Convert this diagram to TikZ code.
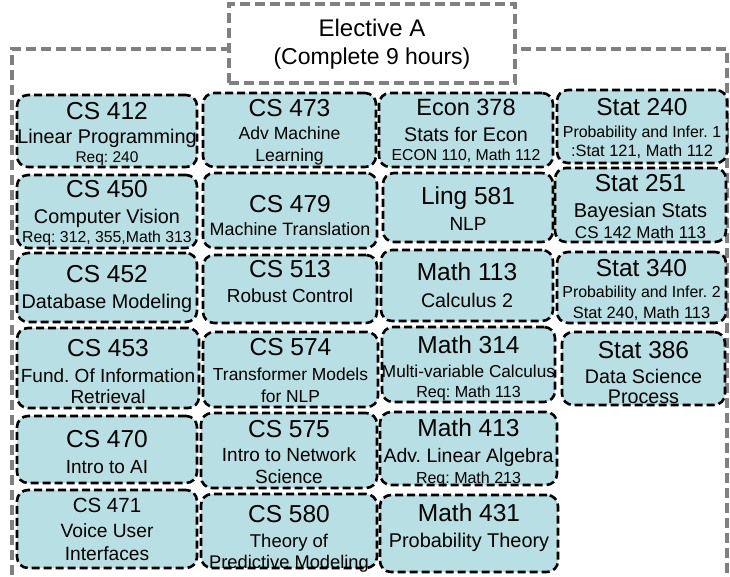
\documentclass[tikz,border=0pt]{standalone}
\usepackage{fontspec}
\setmainfont{Liberation Sans}
\usetikzlibrary{fit}

\definecolor{boxfill}{RGB}{184,223,227}
\definecolor{framegray}{RGB}{128,128,128}

% font size helper (size in pt, tight leading)
\newcommand\fs[1]{\fontsize{#1}{#1}\selectfont}

\tikzset{
  cbox/.style={draw=black, fill=boxfill, line width=2.6pt,
    dash pattern=on 8pt off 4pt, rounded corners=11pt, inner sep=0pt, outer sep=0pt},
  titlebox/.style={draw=framegray, fill=white, line width=4pt,
    dash pattern=on 10pt off 5pt, inner sep=0pt, outer sep=0pt},
  frameline/.style={draw=framegray, line width=4pt, dash pattern=on 10pt off 5pt},
  tline/.style={anchor=base, inner sep=0pt, outer sep=0pt, text=black},
  code/.style={tline, font=\fs{24.5}},
  desc/.style={tline, font=\fs{#1}},
  desc/.default=19.5,
  small/.style={tline, font=\fs{#1}},
  small/.default=16,
}

% course box: name, left, top, right, bottom
\newcommand\course[5]{\node[cbox, fit={(#2,#3) (#4,#5)}] (#1) {};}
% one text line: node name, box name, baseline y, style, text
\newcommand\crsline[5]{\node[#4] (#1) at (#2.center |- 0,#3) {#5};}

\begin{document}
\frenchspacing
\begin{tikzpicture}[x=1pt, y=-1pt]
  \useasboundingbox (0,0) rectangle (730,577);
  \clip (0,0) rectangle (730,577);

  % outer frame, open at the bottom
  \coordinate (fbl) at (12,590);
  \coordinate (ftl) at (12,49);
  \coordinate (ftr) at (727,49);
  \coordinate (fbr) at (727,590);
  \draw[frameline] (fbl) -- (ftl) -- (ftr) -- (fbr);

  % heading
  \node[titlebox, fit={(229,4) (515,83)}] (title) {};
  \crsline{title1}{title}{37}{tline, font=\fs{24}}{Elective A}
  \crsline{title2}{title}{65}{tline, font=\fs{23}}{(Complete 9 hours)}

  % ---- column 1
  \course{cs412}{17}{95}{197}{167}
  \crsline{cs412a}{cs412}{120}{code}{CS 412}
  \crsline{cs412b}{cs412}{144}{desc=19.8}{Linear Programming}
  \crsline{cs412c}{cs412}{163}{small=15.5}{Req: 240}

  \course{cs450}{17}{175}{197}{248}
  \crsline{cs450a}{cs450}{198}{code}{CS 450}
  \crsline{cs450b}{cs450}{224}{desc=19.8}{Computer Vision}
  \crsline{cs450c}{cs450}{243}{small=15.8}{Req: 312, 355,Math 313}

  \course{cs452}{17}{253}{197}{322}
  \crsline{cs452a}{cs452}{282}{code}{CS 452}
  \crsline{cs452b}{cs452}{308}{desc=19.8}{Database Modeling}

  \course{cs453}{17}{328}{199}{408}
  \crsline{cs453a}{cs453}{356}{code}{CS 453}
  \crsline{cs453b}{cs453}{382}{desc=19}{Fund. Of Information}
  \crsline{cs453c}{cs453}{403}{desc=19}{Retrieval}

  \course{cs470}{17}{416}{197}{483}
  \crsline{cs470a}{cs470}{447}{code}{CS 470}
  \crsline{cs470b}{cs470}{473}{desc=19}{Intro to AI}

  \course{cs471}{17}{490}{197}{568}
  \crsline{cs471a}{cs471}{512}{tline, font=\fs{20.5}}{CS 471}
  \crsline{cs471b}{cs471}{537}{desc=19.2}{Voice User}
  \crsline{cs471c}{cs471}{560}{desc=19.2}{Interfaces}

  % ---- column 2
  \course{cs473}{203}{93}{376}{167}
  \crsline{cs473a}{cs473}{117}{code}{CS 473}
  \crsline{cs473b}{cs473}{140}{desc=17.6}{Adv Machine}
  \crsline{cs473c}{cs473}{162}{desc=17.6}{Learning}

  \course{cs479}{203}{173}{377}{248}
  \crsline{cs479a}{cs479}{213}{code}{CS 479}
  \crsline{cs479b}{cs479}{236}{desc=17.9}{Machine Translation}

  \course{cs513}{203}{255}{377}{323}
  \crsline{cs513a}{cs513}{277}{code}{CS 513}
  \crsline{cs513b}{cs513}{302}{desc=18.9}{Robust Control}

  \course{cs574}{203}{332}{378}{407}
  \crsline{cs574a}{cs574}{355}{code}{CS 574}
  \crsline{cs574b}{cs574}{380}{desc=17.4}{Transformer Models}
  \crsline{cs574c}{cs574}{402}{desc=17.4}{for NLP}

  \course{cs575}{201}{413}{377}{488}
  \crsline{cs575a}{cs575}{437}{code}{CS 575}
  \crsline{cs575b}{cs575}{461}{desc=19}{Intro to Network}
  \crsline{cs575c}{cs575}{483}{desc=19}{Science}

  \course{cs580}{201}{494}{377}{568}
  \crsline{cs580a}{cs580}{522}{code}{CS 580}
  \crsline{cs580b}{cs580}{547}{desc=18.5}{Theory of}
  \crsline{cs580c}{cs580}{568}{desc=18.3}{Predictive Modeling}

  % ---- column 3
  \course{econ378}{379}{93}{553}{167}
  \crsline{econ378a}{econ378}{116}{tline, font=\fs{23.5}}{Econ 378}
  \crsline{econ378b}{econ378}{142}{desc=19.7}{Stats for Econ}
  \crsline{econ378c}{econ378}{161}{small=15.8}{ECON 110, Math 112}

  \course{ling581}{383}{173}{553}{242}
  \crsline{ling581a}{ling581}{205}{code}{Ling 581}
  \crsline{ling581b}{ling581}{230}{desc=19}{NLP}

  \course{math113}{381}{250}{553}{321}
  \crsline{math113a}{math113}{280}{code}{Math 113}
  \crsline{math113b}{math113}{307}{desc=19.7}{Calculus 2}

  \course{math314}{382}{327}{555}{402}
  \crsline{math314a}{math314}{353}{code}{Math 314}
  \crsline{math314b}{math314}{377}{desc=17.2}{Multi-variable Calculus}
  \crsline{math314c}{math314}{397}{small=16.1}{Req: Math 113}

  \course{math413}{380}{412}{557}{485}
  \crsline{math413a}{math413}{436}{code}{Math 413}
  \crsline{math413b}{math413}{462}{desc=19.5}{Adv. Linear Algebra}
  \crsline{math413c}{math413}{483}{small=16}{Req: Math 213}

  \course{math431}{380}{495}{558}{572}
  \crsline{math431a}{math431}{521}{code}{Math 431}
  \crsline{math431b}{math431}{547}{desc=19.9}{Probability Theory}

  % ---- column 4
  \course{stat240}{557}{90}{727}{163}
  \crsline{stat240a}{stat240}{116}{code}{Stat 240}
  \crsline{stat240b}{stat240}{138}{small=15.9}{Probability and Infer. 1}
  \crsline{stat240c}{stat240}{157}{small=16.4}{:Stat 121, Math 112}

  \course{stat251}{555}{168}{726}{242}
  \crsline{stat251a}{stat251}{192}{code}{Stat 251}
  \crsline{stat251b}{stat251}{218}{desc=20}{Bayesian Stats}
  \crsline{stat251c}{stat251}{238}{small=17}{CS 142 Math 113}

  \course{stat340}{557}{252}{726}{323}
  \crsline{stat340a}{stat340}{276}{code}{Stat 340}
  \crsline{stat340b}{stat340}{297}{small=15.9}{Probability and Infer. 2}
  \crsline{stat340c}{stat340}{318}{small=16.4}{Stat 240, Math 113}

  \course{stat386}{562}{332}{725}{405}
  \crsline{stat386a}{stat386}{358}{code}{Stat 386}
  \crsline{stat386b}{stat386}{383}{desc=19.7}{Data Science}
  \crsline{stat386c}{stat386}{403}{desc=19.7}{Process}
\end{tikzpicture}
\end{document}
